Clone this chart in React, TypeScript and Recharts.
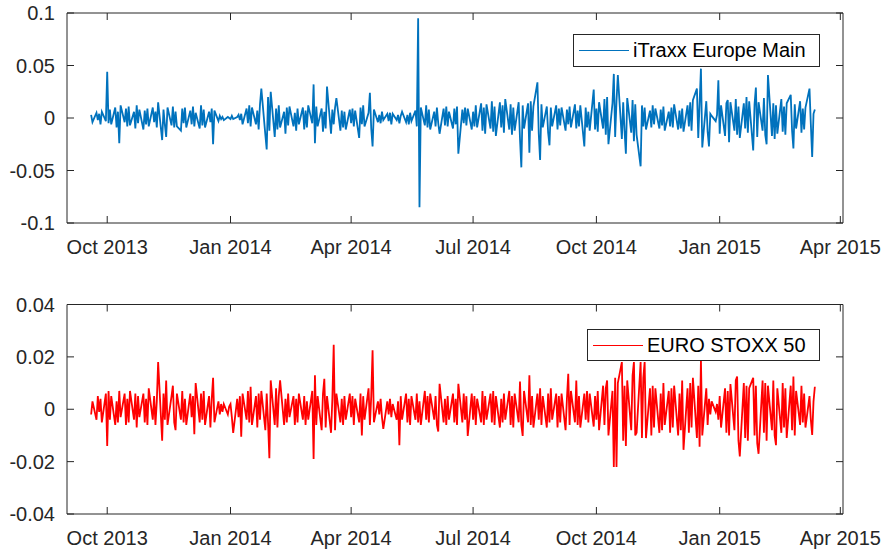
import React from 'react';
import { LineChart, Line, XAxis, YAxis, ReferenceLine } from 'recharts';

// ---------- data ----------
const startDate = '2013-09-19'; // first trading day in the series
const xDomainDates = ['2013-09-01', '2015-04-03'];
const xTickDates = ['2013-10-01', '2014-01-01', '2014-04-01', '2014-07-01', '2014-10-01', '2015-01-01', '2015-04-01'];
const xTickLabels = ['Oct 2013', 'Jan 2014', 'Apr 2014', 'Jul 2014', 'Oct 2014', 'Jan 2015', 'Apr 2015'];
const topYTicks = [-0.1, -0.05, 0, 0.05, 0.1];
const botYTicks = [-0.04, -0.02, 0, 0.02, 0.04];

const itraxx = [
  .003,-.004,.005,-.002,.004,-.006,.006,-.003,.044,-.005,
  .008,-.006,.010,-.009,.006,-.024,.012,-.004,.009,-.008,
  .011,-.007,.006,-.010,.012,-.005,.008,-.011,.007,-.006,
  .009,-.008,.010,-.004,.006,-.009,.015,-.021,.008,-.006,
  -.018,.010,-.007,.011,-.009,.006,-.008,-.012,.009,-.005,
  .010,-.009,.007,-.006,.011,-.008,.005,-.010,.012,-.007,
  .008,-.009,.006,-.004,.009,-.025,.007,-.003,.002,-.001,
  .001,-.002,.001,.000,-.001,.002,-.001,.001,.003,-.002,
  .004,-.006,.009,-.005,.012,-.008,.010,-.006,.007,-.011,
  .013,.028,-.016,-.030,.020,-.012,.025,-.018,.009,-.011,
  .012,-.009,.006,-.015,.010,-.007,.011,-.008,.005,-.012,
  .009,-.006,.010,-.011,.007,-.009,.012,-.005,.032,-.024,
  .011,-.008,.009,-.013,.006,-.010,.030,-.015,.008,-.006,
  .010,.019,-.012,.007,-.009,.006,-.011,.008,-.005,.009,
  -.008,.007,-.019,.010,-.006,.012,-.008,.005,.024,-.010,
  -.027,.008,-.004,.003,-.005,.006,-.002,.004,-.003,.005,
  -.006,.004,-.002,.003,-.005,.002,.006,-.004,.003,-.006,
  .005,-.003,.007,-.008,.095,-.085,.010,-.007,.012,-.009,
  .008,-.011,.006,-.008,.010,-.005,-.015,.009,-.007,.011,
  -.008,.006,-.010,.009,-.006,.011,-.034,.008,-.005,.010,
  -.007,.009,-.011,.006,-.008,.012,-.009,.014,-.012,.010,
  -.015,.013,-.010,.016,-.013,.011,-.017,.015,-.009,.012,
  -.014,.018,-.011,.013,-.016,.010,-.012,.015,-.020,-.047,
  .012,-.010,.014,-.033,.016,-.012,.011,.034,-.015,-.040,
  .013,-.009,.011,-.014,-.026,.010,-.008,.012,-.011,.009,
  -.007,.010,-.012,.008,-.006,.011,-.009,.013,-.010,.007,
  -.008,.012,-.027,.010,-.009,.006,-.012,.027,-.011,.009,
  -.013,.015,-.010,.018,-.016,.020,-.025,.014,.042,-.018,
  .016,.041,-.020,.015,-.012,-.034,.019,-.014,.017,-.022,
  .013,-.016,-.046,.012,-.008,.010,-.011,.007,-.009,.012,
  -.006,.009,-.010,.008,-.007,.011,-.012,.006,-.008,.010,
  -.009,.013,-.011,.007,-.010,.009,-.013,.012,-.008,.015,
  -.012,.017,.028,-.019,.014,.047,-.028,.016,-.013,-.027,
  .004,.002,-.003,.003,.036,-.015,.012,-.017,.014,.017,
  -.023,.015,-.012,.018,-.016,.011,-.019,.014,-.010,.020,
  -.014,.016,-.031,.013,.029,-.018,.015,-.012,.019,-.016,
  -.025,.041,-.017,.014,-.020,.012,-.015,.018,-.013,.011,
  -.016,.014,.022,-.012,-.029,.013,-.010,.016,-.014,.009,
  -.011,.010,.028,-.006,-.037,.004,.008,
];

const stoxx = [
  -.002,.003,-.004,.005,-.001,.004,-.005,.006,-.014,.007,
  -.004,.005,-.006,.003,-.005,.007,-.003,.006,-.006,.004,
  -.005,.007,-.004,.006,-.007,.005,-.003,.006,-.005,.004,
  -.006,.008,-.004,.005,-.006,.003,.018,-.012,.006,-.004,
  .011,-.006,.005,.009,-.005,-.008,.006,-.004,.007,-.005,
  .004,-.006,.006,-.003,.005,-.0095,.010,-.005,.006,-.004,
  .007,-.006,.005,-.007,.004,.012,-.005,.003,-.002,.002,
  -.001,.002,-.002,.001,.002,-.003,-.009,.004,-.003,.005,
  -.0105,.006,-.004,.007,-.005,.0086,-.006,.005,-.007,.006,
  -.004,.007,-.008,.006,-.005,-.0187,.011,-.006,.008,-.007,
  .005,.011,-.006,.004,-.005,.006,-.003,.005,-.006,.004,
  -.005,.006,-.004,.005,-.006,.003,-.004,.007,-.019,.013,
  -.006,.005,-.008,.006,.0116,-.007,.005,-.009,.004,.0246,
  -.008,.006,-.005,.004,-.006,.005,-.004,.006,-.003,.005,
  -.006,.004,-.005,.006,-.010,.005,-.004,.008,-.006,.005,
  .0225,-.005,.003,-.002,.004,-.003,-.0075,.003,-.002,.004,
  -.003,.002,-.004,.003,-.0137,.005,-.004,.006,-.005,.004,
  -.006,.005,-.004,.006,-.005,.003,-.006,.007,-.004,.005,
  -.005,.006,-.004,.005,-.006,-.0085,.0097,-.005,.004,-.006,
  .005,-.004,.006,-.005,.004,-.006,.0097,-.005,.006,-.004,
  .005,-.0102,.006,-.004,.005,-.006,.004,-.005,.007,-.006,
  .005,-.004,.006,-.005,.007,-.006,.005,-.007,.004,-.005,
  .006,-.004,.007,-.006,.005,-.007,.006,-.005,.0106,-.006,
  -.0102,.007,-.005,.013,-.006,.005,-.007,.006,-.004,.008,
  -.006,.005,-.007,.006,-.005,.008,-.004,.006,-.007,.005,
  -.005,.006,-.008,.004,.0135,-.006,.007,-.005,.011,-.006,
  .005,-.007,.006,-.004,.007,-.005,.006,-.0066,.005,-.004,
  .007,-.008,.009,-.006,.008,.011,-.010,.007,-.022,.012,
  -.022,.010,.018,-.012,.009,-.014,.011,-.008,.013,.018,
  -.010,-.009,.018,-.011,.012,.018,-.011,.008,-.010,.009,
  -.007,.008,-.009,.006,-.008,.010,-.006,.007,-.009,.008,
  -.007,.009,-.010,.006,-.008,.011,-.0155,.008,-.009,.010,
  -.007,.012,-.011,.009,-.0143,.019,-.010,.008,-.006,.004,
  -.002,.003,-.001,.002,-.004,.005,-.007,.008,-.009,.007,
  -.010,.0096,-.008,.011,.0125,-.012,-.018,.010,-.011,.009,
  -.012,.008,.012,-.010,.009,-.013,-.017,.011,-.009,.010,
  -.012,.009,-.008,.011,-.010,-.0137,.008,-.009,.010,-.007,
  .008,-.011,.009,-.008,.0125,-.010,.007,-.006,.009,-.005,
  .006,-.007,.005,-.004,-.0098,.003,.0086,
];

// ---------- helpers ----------
const toMs = (s: string) => Date.parse(s + 'T00:00:00Z');
const DAY = 86400000;

function tradingDays(start: string, n: number): number[] {
  const out: number[] = [];
  let d = toMs(start);
  while (out.length < n) {
    const wd = new Date(d).getUTCDay();
    if (wd !== 0 && wd !== 6) out.push(d);
    d += DAY;
  }
  return out;
}

const dates = tradingDays(startDate, Math.max(itraxx.length, stoxx.length));
const topData = itraxx.map((v, i) => ({ t: dates[i], v }));
const botData = stoxx.map((v, i) => ({ t: dates[i], v }));
const xTicks = xTickDates.map(toMs);
const xLabelMap = new Map<number, string>(xTicks.map((t, i) => [t, xTickLabels[i]]));
const xDomain = xDomainDates.map(toMs);

// ---------- styling ----------
const W = 891;
const H = 554;
const PL = 67;
const PR = 843;
const AX = '#262626';
const FONT = '"Liberation Sans", Arial, Helvetica, sans-serif';
const FS = 20;
const TL = 7;

const makeXTick = (top: number, bottom: number) => (props: any) => {
  const { x, payload } = props;
  return (
    <g>
      <line x1={x} x2={x} y1={bottom} y2={bottom - TL} stroke={AX} strokeWidth={1} />
      <line x1={x} x2={x} y1={top} y2={top + TL} stroke={AX} strokeWidth={1} />
      <text x={x} y={bottom + 31} textAnchor="middle" fontSize={FS} fontFamily={FONT} fill={AX}>
        {xLabelMap.get(payload.value) ?? ''}
      </text>
    </g>
  );
};

const YTick = (props: any) => {
  const { y, payload } = props;
  return (
    <g>
      <line x1={PL} x2={PL + TL} y1={y} y2={y} stroke={AX} strokeWidth={1} />
      <line x1={PR} x2={PR - TL} y1={y} y2={y} stroke={AX} strokeWidth={1} />
      <text x={PL - 12} y={y} dy="0.36em" textAnchor="end" fontSize={FS} fontFamily={FONT} fill={AX}>
        {String(payload.value)}
      </text>
    </g>
  );
};

const LegendBox = ({ color, label, left, top, width, height }: { color: string; label: string; left: number; top: number; width: number; height: number }) => (
  <div
    style={{
      position: 'absolute',
      left,
      top,
      boxSizing: 'border-box',
      width,
      height,
      border: `1px solid ${AX}`,
      background: '#fff',
      display: 'flex',
      alignItems: 'center',
      fontFamily: FONT,
      fontSize: FS,
      color: '#000',
      whiteSpace: 'nowrap',
    }}
  >
    <span style={{ display: 'inline-block', width: 50, height: 0, borderTop: `1px solid ${color}`, marginLeft: 5, marginRight: 4 }} />
    <span>{label}</span>
  </div>
);

function Panel(props: {
  data: { t: number; v: number }[];
  color: string;
  name: string;
  top: number;
  bottom: number;
  yDomain: number[];
  yTicks: number[];
  legend: { left: number; top: number; width: number; height: number };
}) {
  const { data, color, name, top, bottom, yDomain, yTicks, legend } = props;
  const XTick = makeXTick(top, bottom);
  return (
    <div style={{ position: 'absolute', left: 0, top: 0, width: W, height: H }}>
      <LineChart
        width={W}
        height={H}
        data={data}
        margin={{ top, right: W - PR, left: 7, bottom: H - bottom - 40 }}
      >
        <XAxis
          dataKey="t"
          type="number"
          domain={xDomain}
          ticks={xTicks}
          interval={0}
          height={40}
          tickLine={false}
          axisLine={{ stroke: AX, strokeWidth: 1 }}
          tick={XTick}
        />
        <YAxis
          type="number"
          domain={yDomain}
          ticks={yTicks}
          interval={0}
          width={60}
          tickLine={false}
          axisLine={{ stroke: AX, strokeWidth: 1 }}
          tick={YTick}
          allowDataOverflow
        />
        <ReferenceLine y={yDomain[1]} stroke={AX} strokeWidth={1} />
        <ReferenceLine x={xDomain[1]} stroke={AX} strokeWidth={1} />
        <Line
          type="linear"
          dataKey="v"
          name={name}
          stroke={color}
          strokeWidth={1.8}
          dot={false}
          isAnimationActive={false}
        />
      </LineChart>
      <LegendBox color={color} label={name} {...legend} />
    </div>
  );
}

export default function App() {
  return (
    <div style={{ position: 'absolute', left: 0, top: 0, width: W, height: H, background: '#fff' }}>
      <Panel
        data={topData}
        color="#0072BD"
        name="iTraxx Europe Main"
        top={13}
        bottom={223}
        yDomain={[-0.1, 0.1]}
        yTicks={topYTicks}
        legend={{ left: 573, top: 34, width: 247, height: 33 }}
      />
      <Panel
        data={botData}
        color="#FF0000"
        name="EURO STOXX 50"
        top={304.5}
        bottom={514}
        yDomain={[-0.04, 0.04]}
        yTicks={botYTicks}
        legend={{ left: 587, top: 329, width: 233, height: 32 }}
      />
    </div>
  );
}
